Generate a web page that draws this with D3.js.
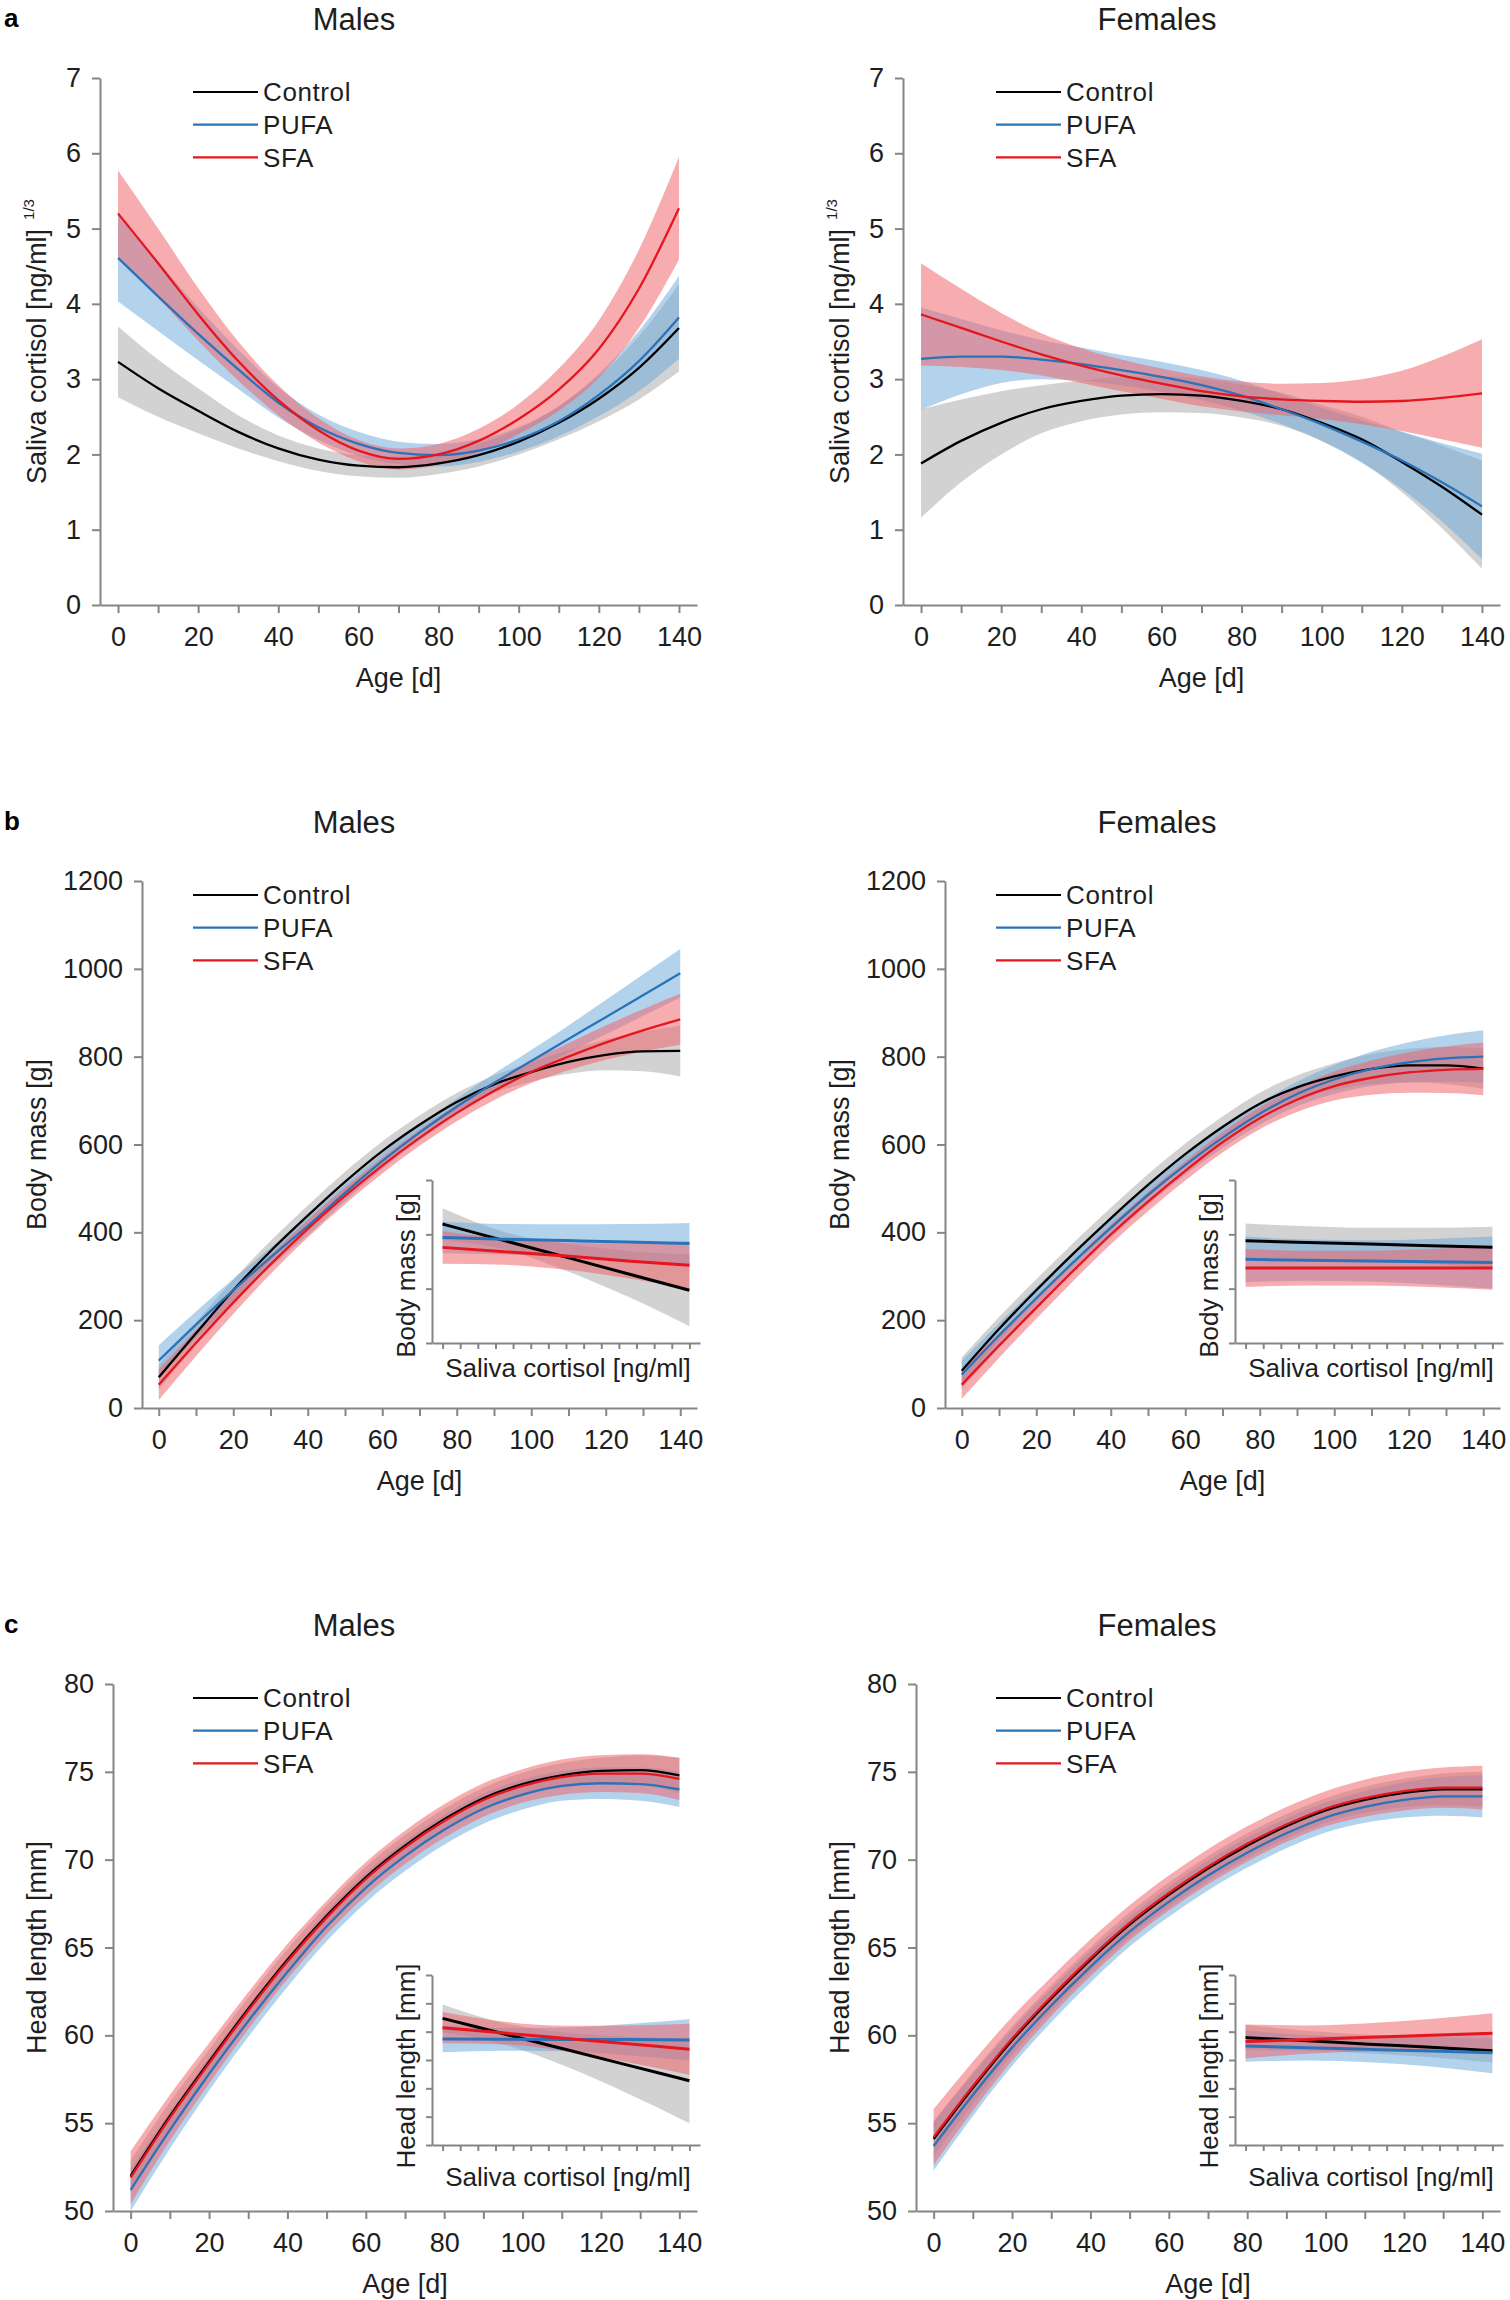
<!DOCTYPE html>
<html><head><meta charset="utf-8">
<script src="https://cdn.jsdelivr.net/npm/d3@7"></script>
<style>
body{margin:0;background:#fff;}
svg text{font-family:"Liberation Sans",Arial,sans-serif;}
</style></head><body>
<svg id="chart" width="1510" height="2300"></svg>
<script>
// ---------- DATA ----------
const groups = ['Control', 'PUFA', 'SFA'];
const ageDays = [0,10,20,30,40,50,60,70,80,90,100,110,120,130,140];
const ageTickLabels = [0,20,40,60,80,100,120,140];
const cortisolTicks = [0,1,2,3,4,5,6,7];
const massTicks = [0,200,400,600,800,1000,1200];
const headTicks = [50,55,60,65,70,75,80];

// a: saliva cortisol, males
const cortMControl   = [3.23,2.88,2.58,2.30,2.08,1.93,1.85,1.83,1.88,1.99,2.17,2.42,2.74,3.15,3.68];
const cortMControlCI = [0.47,0.38,0.30,0.22,0.17,0.15,0.14,0.14,0.14,0.15,0.17,0.22,0.30,0.42,0.58];
const cortMPufa      = [4.61,4.10,3.60,3.13,2.69,2.36,2.14,2.02,1.99,2.05,2.20,2.44,2.79,3.24,3.82];
const cortMPufaCI    = [0.58,0.46,0.35,0.26,0.20,0.17,0.16,0.15,0.15,0.15,0.16,0.20,0.28,0.40,0.55];
const cortMSfa       = [5.20,4.54,3.86,3.24,2.72,2.32,2.05,1.94,2.00,2.18,2.47,2.86,3.40,4.20,5.27];
const cortMSfaCI     = [0.57,0.46,0.35,0.26,0.20,0.16,0.14,0.14,0.14,0.16,0.20,0.28,0.38,0.52,0.68];
// a: saliva cortisol, females
const cortFControl   = [1.88,2.18,2.42,2.60,2.71,2.78,2.80,2.78,2.71,2.60,2.42,2.20,1.90,1.57,1.20];
const cortFControlCI = [0.72,0.55,0.42,0.32,0.27,0.25,0.24,0.23,0.22,0.22,0.24,0.30,0.40,0.55,0.72];
const cortFPufa      = [3.27,3.30,3.30,3.26,3.20,3.12,3.03,2.92,2.78,2.60,2.40,2.17,1.92,1.63,1.31];
const cortFPufaCI    = [0.68,0.50,0.35,0.26,0.22,0.20,0.20,0.20,0.20,0.20,0.22,0.28,0.38,0.52,0.70];
const cortFSfa       = [3.86,3.68,3.50,3.33,3.18,3.05,2.94,2.84,2.77,2.73,2.71,2.70,2.71,2.75,2.81];
const cortFSfaCI     = [0.68,0.52,0.38,0.28,0.23,0.21,0.20,0.20,0.20,0.21,0.24,0.30,0.40,0.55,0.72];

// b: body mass, males
const massMControl   = [70,170,268,357,438,515,585,645,697,737,765,788,804,812,813];
const massMControlCI = [28,25,24,23,23,23,22,21,20,20,22,27,35,45,58];
const massMPufa      = [108,190,268,343,414,490,562,627,686,740,790,840,890,940,990];
const massMPufaCI    = [35,30,26,22,20,19,18,18,19,21,25,31,39,47,55];
const massMSfa       = [53,148,240,327,408,483,552,615,672,722,765,800,832,860,885];
const massMSfaCI     = [35,30,26,22,20,19,18,18,19,21,25,31,39,48,58];
// b: body mass, females
const massFControl   = [85,180,268,352,432,508,578,640,693,730,755,772,780,780,773];
const massFControlCI = [30,27,25,24,24,24,24,24,25,27,30,34,38,42,46];
const massFPufa      = [76,165,250,332,410,485,553,615,670,715,748,772,787,796,800];
const massFPufaCI    = [32,28,25,23,22,22,22,23,25,28,33,39,46,53,60];
const massFSfa       = [53,142,228,313,395,470,540,605,660,702,733,752,764,770,772];
const massFSfaCI     = [32,28,25,23,22,22,22,23,25,28,33,39,46,53,60];

// c: head length, males
const headMControl   = [52.0,55.4,58.5,61.5,64.3,66.8,69.0,70.8,72.3,73.5,74.3,74.8,75.05,75.1,74.8];
const headMControlCI = [0.9,0.8,0.7,0.65,0.6,0.6,0.6,0.6,0.6,0.6,0.65,0.7,0.75,0.85,1.0];
const headMPufa      = [51.2,54.6,57.8,60.8,63.6,66.2,68.4,70.2,71.7,72.9,73.7,74.2,74.35,74.3,74.0];
const headMPufaCI    = [1.2,1.05,0.95,0.9,0.85,0.85,0.85,0.85,0.85,0.85,0.85,0.85,0.9,0.95,1.0];
const headMSfa       = [51.9,55.3,58.4,61.4,64.2,66.7,68.9,70.7,72.2,73.4,74.2,74.7,74.9,74.9,74.6];
const headMSfaCI     = [1.5,1.3,1.15,1.05,1.0,0.95,0.95,0.95,0.95,0.95,0.95,1.0,1.05,1.1,1.2];
// c: head length, females
const headFControl   = [54.1,57.0,59.7,62.1,64.3,66.3,68.0,69.5,70.8,71.9,72.8,73.4,73.8,74.0,74.0];
const headFControlCI = [1.0,0.9,0.8,0.75,0.7,0.7,0.7,0.7,0.7,0.7,0.7,0.75,0.8,0.9,1.0];
const headFPufa      = [53.7,56.6,59.3,61.7,63.9,65.9,67.6,69.1,70.4,71.5,72.4,73.0,73.4,73.6,73.6];
const headFPufaCI    = [1.4,1.2,1.05,0.95,0.9,0.85,0.85,0.85,0.85,0.85,0.85,0.9,1.0,1.1,1.2];
const headFSfa       = [54.2,57.1,59.8,62.2,64.4,66.4,68.1,69.6,70.9,72.0,72.9,73.5,73.9,74.1,74.1];
const headFSfaCI     = [1.6,1.4,1.25,1.1,1.05,1.0,1.0,1.0,1.0,1.0,1.0,1.05,1.1,1.15,1.25];

// insets (unlabelled axes: saliva cortisol vs. trait, arbitrary units)
const insetTicksX = [0,1,2,3,4,5,6,7,8,9,10,11,12,13,14];
const insetCortisol = [0,3.5,7,10.5,14];
const insetMassTicks = [0,1,2,3];
const insetHeadTicks = [0,1,2,3,4,5,6];
const inMassMControl = [2.19,1.885,1.58,1.275,0.97], inMassMControlCI = [0.29,0.16,0.25,0.42,0.66];
const inMassMPufa    = [1.94,1.91,1.885,1.86,1.83],  inMassMPufaCI    = [0.29,0.28,0.30,0.33,0.38];
const inMassMSfa     = [1.76,1.68,1.60,1.51,1.43],   inMassMSfaCI     = [0.30,0.24,0.25,0.32,0.44];
const inMassFControl = [1.88,1.85,1.82,1.79,1.76],   inMassFControlCI = [0.32,0.30,0.30,0.33,0.38];
const inMassFPufa    = [1.54,1.525,1.51,1.495,1.48], inMassFPufaCI    = [0.42,0.38,0.38,0.42,0.48];
const inMassFSfa     = [1.38,1.38,1.38,1.38,1.38],   inMassFSfaCI     = [0.35,0.32,0.32,0.35,0.40];
const inHeadMControl = [4.47,3.92,3.37,2.82,2.27],   inHeadMControlCI = [0.49,0.38,0.60,1.00,1.50];
const inHeadMPufa    = [3.74,3.73,3.725,3.72,3.71],  inHeadMPufaCI    = [0.47,0.40,0.42,0.55,0.73];
const inHeadMSfa     = [4.14,3.95,3.76,3.57,3.38],   inHeadMSfaCI     = [0.55,0.40,0.45,0.65,0.90];
const inHeadFControl = [3.79,3.68,3.56,3.45,3.33],   inHeadFControlCI = [0.45,0.35,0.33,0.35,0.42];
const inHeadFPufa    = [3.49,3.43,3.375,3.32,3.26],  inHeadFPufaCI    = [0.55,0.45,0.45,0.55,0.73];
const inHeadFSfa     = [3.65,3.72,3.80,3.87,3.94],   inHeadFSfaCI     = [0.60,0.50,0.50,0.58,0.71];

// ---------- STYLE / LAYOUT ----------
const lineColors = ['#000000', '#2b73b9', '#e5161d'];
const bandColors = ['#a8a8a8', '#6eaadc', '#ef5f68'];
const BAND_OPACITY = 0.52;
const AXIS_COLOR = '#858585';
const TEXT_COLOR = '#1e1e1e';
const FONT = 27;
const COL_OFF = 803, ROW_OFF = 803;
const PLOT_TOP = 78, PLOT_H = 527, AXIS_RIGHT = 697;
const axisLeftByRow = [100, 142, 113];

const panels = [
  {row:0,col:0,title:'Males',letter:'a',yLabel:'Saliva cortisol [ng/ml]',sup:'1/3',yTicks:cortisolTicks,yDom:[0,7],
   series:[[cortMControl,cortMControlCI],[cortMPufa,cortMPufaCI],[cortMSfa,cortMSfaCI]]},
  {row:0,col:1,title:'Females',yLabel:'Saliva cortisol [ng/ml]',sup:'1/3',yTicks:cortisolTicks,yDom:[0,7],
   series:[[cortFControl,cortFControlCI],[cortFPufa,cortFPufaCI],[cortFSfa,cortFSfaCI]]},
  {row:1,col:0,title:'Males',letter:'b',yLabel:'Body mass [g]',yTicks:massTicks,yDom:[0,1200],
   series:[[massMControl,massMControlCI],[massMPufa,massMPufaCI],[massMSfa,massMSfaCI]],
   inset:{label:'Body mass [g]',ticks:insetMassTicks,dom:[0,3],top:1180,bottom:1343,xlabOff:34,ylabOff:14,
     series:[[inMassMControl,inMassMControlCI],[inMassMPufa,inMassMPufaCI],[inMassMSfa,inMassMSfaCI]]}},
  {row:1,col:1,title:'Females',yLabel:'Body mass [g]',yTicks:massTicks,yDom:[0,1200],
   series:[[massFControl,massFControlCI],[massFPufa,massFPufaCI],[massFSfa,massFSfaCI]],
   inset:{label:'Body mass [g]',ticks:insetMassTicks,dom:[0,3],top:1180,bottom:1343,xlabOff:34,ylabOff:14,
     series:[[inMassFControl,inMassFControlCI],[inMassFPufa,inMassFPufaCI],[inMassFSfa,inMassFSfaCI]]}},
  {row:2,col:0,title:'Males',letter:'c',yLabel:'Head length [mm]',yTicks:headTicks,yDom:[50,80],
   series:[[headMControl,headMControlCI],[headMPufa,headMPufaCI],[headMSfa,headMSfaCI]],
   inset:{label:'Head length [mm]',ticks:insetHeadTicks,dom:[0,6],top:1975,bottom:2145,xlabOff:41,ylabOff:6,
     series:[[inHeadMControl,inHeadMControlCI],[inHeadMPufa,inHeadMPufaCI],[inHeadMSfa,inHeadMSfaCI]]}},
  {row:2,col:1,title:'Females',yLabel:'Head length [mm]',yTicks:headTicks,yDom:[50,80],
   series:[[headFControl,headFControlCI],[headFPufa,headFPufaCI],[headFSfa,headFSfaCI]],
   inset:{label:'Head length [mm]',ticks:insetHeadTicks,dom:[0,6],top:1975,bottom:2145,xlabOff:41,ylabOff:6,
     series:[[inHeadFControl,inHeadFControlCI],[inHeadFPufa,inHeadFPufaCI],[inHeadFSfa,inHeadFSfaCI]]}},
];

const svg = d3.select('#chart');

function styleAxis(g, fontSize) {
  g.attr('font-family', null).attr('font-size', null);
  g.select('.domain').attr('stroke', AXIS_COLOR).attr('stroke-width', 2);
  g.selectAll('.tick line').attr('stroke', AXIS_COLOR).attr('stroke-width', 2);
  g.selectAll('.tick text').attr('font-size', fontSize).attr('fill', TEXT_COLOR);
}

function drawSeries(g, xs, xScale, yScale, series, lw) {
  series.forEach(([vals, ci], k) => {
    const area = d3.area()
      .x((d, i) => xScale(xs[i]))
      .y0((d, i) => yScale(vals[i] - ci[i]))
      .y1((d, i) => yScale(vals[i] + ci[i]))
      .curve(d3.curveMonotoneX);
    g.append('path').datum(vals).attr('d', area)
      .attr('fill', bandColors[k]).attr('fill-opacity', BAND_OPACITY);
  });
  series.forEach(([vals], k) => {
    const line = d3.line().x((d, i) => xScale(xs[i])).y(d => yScale(d)).curve(d3.curveMonotoneX);
    g.append('path').datum(vals).attr('d', line)
      .attr('fill', 'none').attr('stroke', lineColors[k]).attr('stroke-width', lw);
  });
}

panels.forEach(p => {
  const colX = p.col * COL_OFF, rowY = p.row * ROW_OFF;
  const xL = axisLeftByRow[p.row] + colX, xR = AXIS_RIGHT + colX;
  const top = PLOT_TOP + rowY, bottom = top + PLOT_H;
  const x = d3.scaleLinear().domain([-4.5, 144.5]).range([xL, xR]);
  const y = d3.scaleLinear().domain(p.yDom).range([bottom, top]);
  const g = svg.append('g');

  // panel letter + title
  if (p.letter) g.append('text').attr('x', 4).attr('y', 27 + rowY).attr('font-size', 26)
      .attr('font-weight', 'bold').attr('fill', '#000').text(p.letter);
  g.append('text').attr('x', 354 + colX).attr('y', 30 + rowY).attr('text-anchor', 'middle')
    .attr('font-size', 31).attr('fill', TEXT_COLOR).text(p.title);

  // data
  drawSeries(g, ageDays, x, y, p.series, 2.3);

  // axes
  const gx = g.append('g').attr('transform', `translate(0,${bottom})`)
    .call(d3.axisBottom(x).tickValues(ageDays).tickSize(8).tickSizeOuter(0).tickPadding(14)
      .tickFormat(d => ageTickLabels.includes(d) ? String(d) : ''));
  styleAxis(gx, FONT);
  const gy = g.append('g').attr('transform', `translate(${xL},0)`)
    .call(d3.axisLeft(y).tickValues(p.yTicks).tickSize(8).tickSizeOuter(0).tickPadding(11)
      .tickFormat(d => String(d)));
  styleAxis(gy, FONT);

  // axis labels
  g.append('text').attr('x', (xL + xR) / 2).attr('y', bottom + 82).attr('text-anchor', 'middle')
    .attr('font-size', FONT).attr('fill', TEXT_COLOR).text('Age [d]');
  const yl = g.append('text').attr('transform', `translate(${46 + colX},${(top + bottom) / 2}) rotate(-90)`)
    .attr('text-anchor', 'middle').attr('font-size', FONT).attr('fill', TEXT_COLOR);
  yl.append('tspan').text(p.yLabel);
  if (p.sup) yl.append('tspan').attr('font-size', 15).attr('dx', 9).attr('dy', -12).text(p.sup);

  // legend
  const lx = 193 + colX;
  groups.forEach((name, k) => {
    const ly = top + 14 + k * 32.7;
    g.append('line').attr('x1', lx).attr('x2', lx + 65).attr('y1', ly).attr('y2', ly)
      .attr('stroke', lineColors[k]).attr('stroke-width', 2.2);
    g.append('text').attr('x', lx + 70).attr('y', ly).attr('dy', '0.36em')
      .attr('font-size', 26).attr('letter-spacing', 0.6).attr('fill', TEXT_COLOR).text(name);
  });

  // inset
  if (p.inset) {
    const ins = p.inset;
    const ixL = 432 + colX, ixR = 700 + colX;
    const ix = d3.scaleLinear().domain([-0.6, 14.6]).range([ixL, ixR]);
    const iy = d3.scaleLinear().domain(ins.dom).range([ins.bottom, ins.top]);
    const gi = g.append('g');
    drawSeries(gi, insetCortisol, ix, iy, ins.series, 3);
    const gix = gi.append('g').attr('transform', `translate(0,${ins.bottom})`)
      .call(d3.axisBottom(ix).tickValues(insetTicksX).tickSize(6).tickSizeOuter(0).tickFormat(''));
    styleAxis(gix, FONT);
    const giy = gi.append('g').attr('transform', `translate(${ixL},0)`)
      .call(d3.axisLeft(iy).tickValues(ins.ticks).tickSize(6).tickSizeOuter(0).tickFormat(''));
    styleAxis(giy, FONT);
    gi.append('text').attr('x', (ixL + ixR) / 2 + 2).attr('y', ins.bottom + ins.xlabOff)
      .attr('text-anchor', 'middle').attr('font-size', 26).attr('fill', TEXT_COLOR)
      .text('Saliva cortisol [ng/ml]');
    gi.append('text')
      .attr('transform', `translate(${ixL - 17},${(ins.top + ins.bottom) / 2 + ins.ylabOff}) rotate(-90)`)
      .attr('text-anchor', 'middle').attr('font-size', 26).attr('fill', TEXT_COLOR).text(ins.label);
  }
});
</script>
</body></html>
